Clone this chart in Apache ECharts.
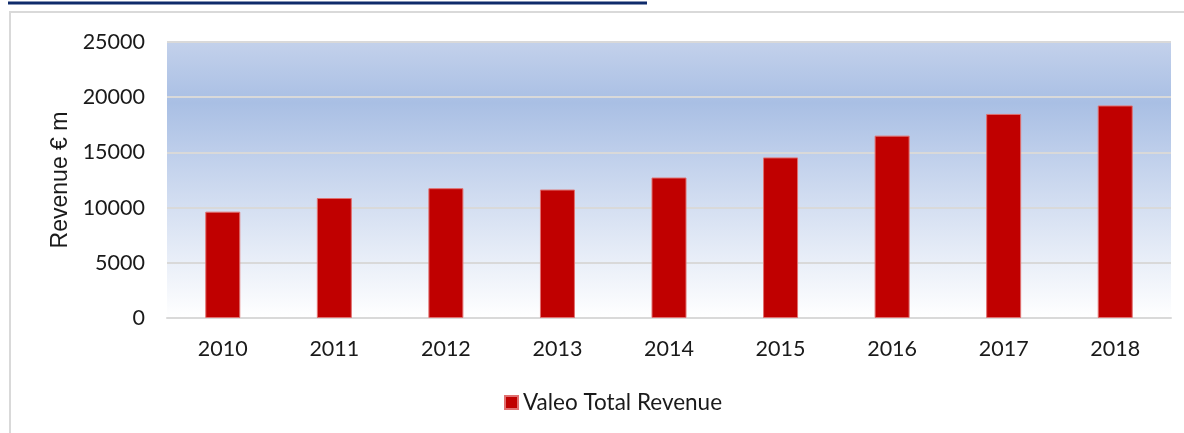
<!DOCTYPE html>
<html>
<head>
<meta charset="utf-8">
<script src="https://cdn.jsdelivr.net/npm/echarts@6/dist/echarts.min.js"></script>
<style>
html, body { margin: 0; padding: 0; background: #fff; }
#chart { width: 1184px; height: 433px; }
</style>
</head>
<body>
<div id="chart"></div>
<script>
var years = ['2010', '2011', '2012', '2013', '2014', '2015', '2016', '2017', '2018'];
var revenue = [9632, 10868, 11759, 11635, 12725, 14544, 16519, 18484, 19250];
var seriesName = 'Valeo Total Revenue';
var yTicks = [0, 5000, 10000, 15000, 20000, 25000];

var fontName = 'Lato';
var chart = echarts.init(document.getElementById('chart'));

chart.setOption({
    backgroundColor: '#ffffff',
    animation: false,
    graphic: [
        {
            type: 'rect',
            shape: { x: 10, y: 12, width: 1200, height: 460 },
            style: { fill: 'none', stroke: '#d9d9d9', lineWidth: 2 },
            z: -1
        },
        {
            type: 'line',
            shape: { x1: 8, y1: 3, x2: 647, y2: 3 },
            style: { stroke: '#0f2b6b', lineWidth: 3 }
        }
    ],
    grid: {
        left: 167,
        right: 13,
        top: 42,
        bottom: 115,
        show: true,
        borderWidth: 0,
        backgroundColor: {
            type: 'linear', x: 0, y: 0, x2: 0, y2: 1,
            colorStops: [
                { offset: 0, color: '#c3d1eb' },
                { offset: 0.22, color: '#a9bfe4' },
                { offset: 0.55, color: '#cfdbf0' },
                { offset: 1, color: '#ffffff' }
            ]
        }
    },
    legend: {
        data: [seriesName],
        top: 386,
        left: 499,
        itemWidth: 13,
        itemHeight: 13,
        itemGap: 6,
        icon: 'rect',
        textStyle: { fontFamily: fontName, fontSize: 22.5, color: '#1a1a1a' }
    },
    xAxis: {
        type: 'category',
        data: years,
        axisLine: { show: true, lineStyle: { color: '#d9d9d9', width: 2 } },
        axisTick: { show: false },
        axisLabel: { fontFamily: fontName, fontSize: 21.5, color: '#1a1a1a', margin: 20 }
    },
    yAxis: {
        type: 'value',
        min: yTicks[0],
        max: yTicks[yTicks.length - 1],
        interval: 5000,
        name: 'Revenue € m',
        nameLocation: 'middle',
        nameGap: 90,
        nameTextStyle: { fontFamily: 'Liberation Sans', fontSize: 23, color: '#1a1a1a' },
        axisLine: { show: false },
        axisTick: { show: false },
        axisLabel: {
            fontFamily: fontName, fontSize: 21.5, color: '#1a1a1a', margin: 22,
            formatter: function (v) { return String(v); }
        },
        splitLine: { lineStyle: { color: '#d9d9d9', width: 2 } }
    },
    series: [
        {
            name: seriesName,
            type: 'bar',
            data: revenue,
            barWidth: 35,
            itemStyle: { color: '#c00000', borderColor: '#e07070', borderWidth: 1 }
        }
    ]
});
</script>
</body>
</html>
